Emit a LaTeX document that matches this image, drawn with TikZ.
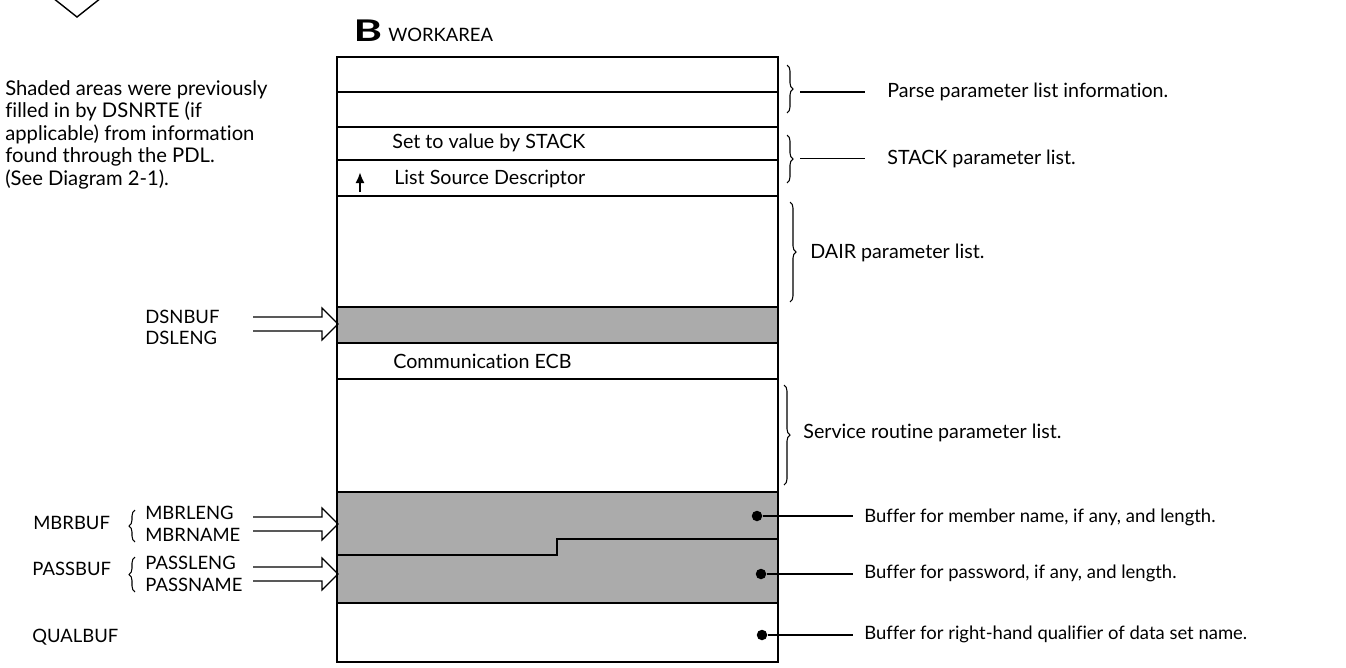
\documentclass[tikz,border=0pt]{standalone}
\usepackage{fontspec}
\setmainfont{Lato}[Ligatures=CommonOff]
\usetikzlibrary{decorations.pathreplacing, arrows.meta}

% open (hollow) arrow whose tip sits on the given coordinate
\newcommand{\openarrow}[1]{%
	\draw[line width=0.7pt] (#1) ++(-1.70,0.14) -- ++(1.38,0) -- ++(0,0.18) -- (#1)
		-- ++(-0.32,-0.32) -- ++(0,0.18) -- ++(-1.38,0);}

\begin{document}
\begin{tikzpicture}[
	txt/.style={anchor=west, inner sep=0, font=\fontsize{10.5}{12.8}\selectfont},
	bigtxt/.style={txt, font=\fontsize{11.2}{13}\selectfont},
	row/.style={line width=0.8pt},
	shade/.style={fill=black!33},
	brc/.style={decorate, decoration={brace, amplitude=0.12cm}, line width=0.6pt},
	lead/.style={line width=0.6pt},
	dot/.style={circle, fill, inner sep=0, minimum size=0.21cm}
]
	
	\useasboundingbox (0,0) rectangle (26.92,-13.36);
	
	% flowchart box above, cut by the page edge
	\draw[line width=0.8pt] (1.06,0.04) -- (1.54,-0.34) -- (2.02,0.04);
	
	\node[anchor=north west, align=left, inner sep=0, font=\fontsize{11.5}{12.8}\selectfont] (note) at (0.10,-1.60)
		{Shaded areas were previously\\filled in by DSNRTE (if\\applicable) from information\\found through the PDL.\\(See Diagram 2-1).};
	
	% title
	\node[anchor=base west, inner sep=0, xscale=1.45, font=\fontsize{17}{17}\selectfont\bfseries] (b) at (7.06,-0.82) {B};
	\node[anchor=base west, inner sep=0, font=\fontsize{10.5}{12}\selectfont] (workarea) at (7.76,-0.82) {WORKAREA};
	
	% shaded fields
	\fill[shade] (6.74,-6.14) rectangle (15.56,-6.86);
	\fill[shade] (6.74,-9.84) rectangle (15.56,-12.06);
	
	% field boundaries
	\foreach \y in {-1.84,-2.54,-3.20,-3.92,-6.14,-6.86,-7.58,-9.84,-12.06}
		\draw[row] (6.74,\y) -- (15.56,\y);
	\draw[row] (6.74,-11.10) -- (11.14,-11.10) -- (11.14,-10.78) -- (15.56,-10.78);
	
	\draw[line width=1.1pt] (6.74,-1.14) rectangle (15.56,-13.24);
	
	\node[bigtxt] (setval) at (7.84,-2.86) {Set to value by STACK};
	\node[bigtxt] (lsd) at (7.88,-3.58) {List Source Descriptor};
	\draw[-{Latex[length=0.22cm,width=0.18cm]}, line width=1.2pt] (7.20,-3.84) -- (7.20,-3.44);
	\node[bigtxt] (ecb) at (7.86,-7.22) {Communication ECB};
	
	% braces on the right
	\draw[brc] (15.74,-1.30) -- (15.74,-2.26);
	\coordinate (parsetip) at (16.00,-1.84);
	\node[bigtxt] (parse) at (17.74,-1.84) {Parse parameter list information.};
	\draw[lead, shorten >=0.44cm] (parsetip) -- (parsetip -| parse.west);
	
	\draw[brc] (15.74,-2.70) -- (15.74,-3.66);
	\coordinate (stacktip) at (16.00,-3.17);
	\node[bigtxt] (stack) at (17.74,-3.17) {STACK parameter list.};
	\draw[lead, shorten >=0.44cm] (stacktip) -- (stacktip -| stack.west);
	
	\draw[brc] (15.80,-4.04) -- (15.80,-6.04);
	\node[bigtxt] (dair) at (16.20,-5.06) {DAIR parameter list.};
	
	\draw[brc] (15.68,-7.70) -- (15.68,-9.70);
	\node[bigtxt] (service) at (16.06,-8.66) {Service routine parameter list.};
	
	% buffers
	\node[dot] (mbrdot) at (15.14,-10.32) {};
	\node[txt] (mbrtxt) at (17.28,-10.34) {Buffer for member name, if any, and length.};
	\draw[lead, shorten >=0.22cm] (mbrdot) -- (mbrdot -| mbrtxt.west);
	
	\node[dot] (passdot) at (15.22,-11.48) {};
	\node[txt] (passtxt) at (17.28,-11.46) {Buffer for password, if any, and length.};
	\draw[lead, shorten >=0.22cm] (passdot) -- (passdot -| passtxt.west);
	
	\node[dot] (qualdot) at (15.24,-12.70) {};
	\node[txt] (qualtxt) at (17.28,-12.68) {Buffer for right-hand qualifier of data set name.};
	\draw[lead, shorten >=0.22cm] (qualdot) -- (qualdot -| qualtxt.west);
	
	% left hand labels and pointers
	\node[txt] (dsnbuf) at (2.90,-6.34) {DSNBUF};
	\node[txt] (dsleng) at (2.90,-6.76) {DSLENG};
	\coordinate (dsnrow) at (6.76,-6.48);
	\openarrow{dsnrow}
	
	\node[txt] (mbrbuf) at (0.66,-10.46) {MBRBUF};
	\draw[brc] (2.70,-10.84) -- (2.70,-10.20);
	\node[txt] (mbrleng) at (2.90,-10.26) {MBRLENG};
	\node[txt] (mbrname) at (2.90,-10.70) {MBRNAME};
	\coordinate (mbrrow) at (6.76,-10.48);
	\openarrow{mbrrow}
	
	\node[txt] (passbuf) at (0.64,-11.38) {PASSBUF};
	\draw[brc] (2.70,-11.84) -- (2.70,-11.14);
	\node[txt] (passleng) at (2.90,-11.26) {PASSLENG};
	\node[txt] (passname) at (2.90,-11.70) {PASSNAME};
	\coordinate (passrow) at (6.76,-11.48);
	\openarrow{passrow}
	
	\node[txt] (qualbuf) at (0.64,-12.74) {QUALBUF};
	
\end{tikzpicture}
\end{document}
